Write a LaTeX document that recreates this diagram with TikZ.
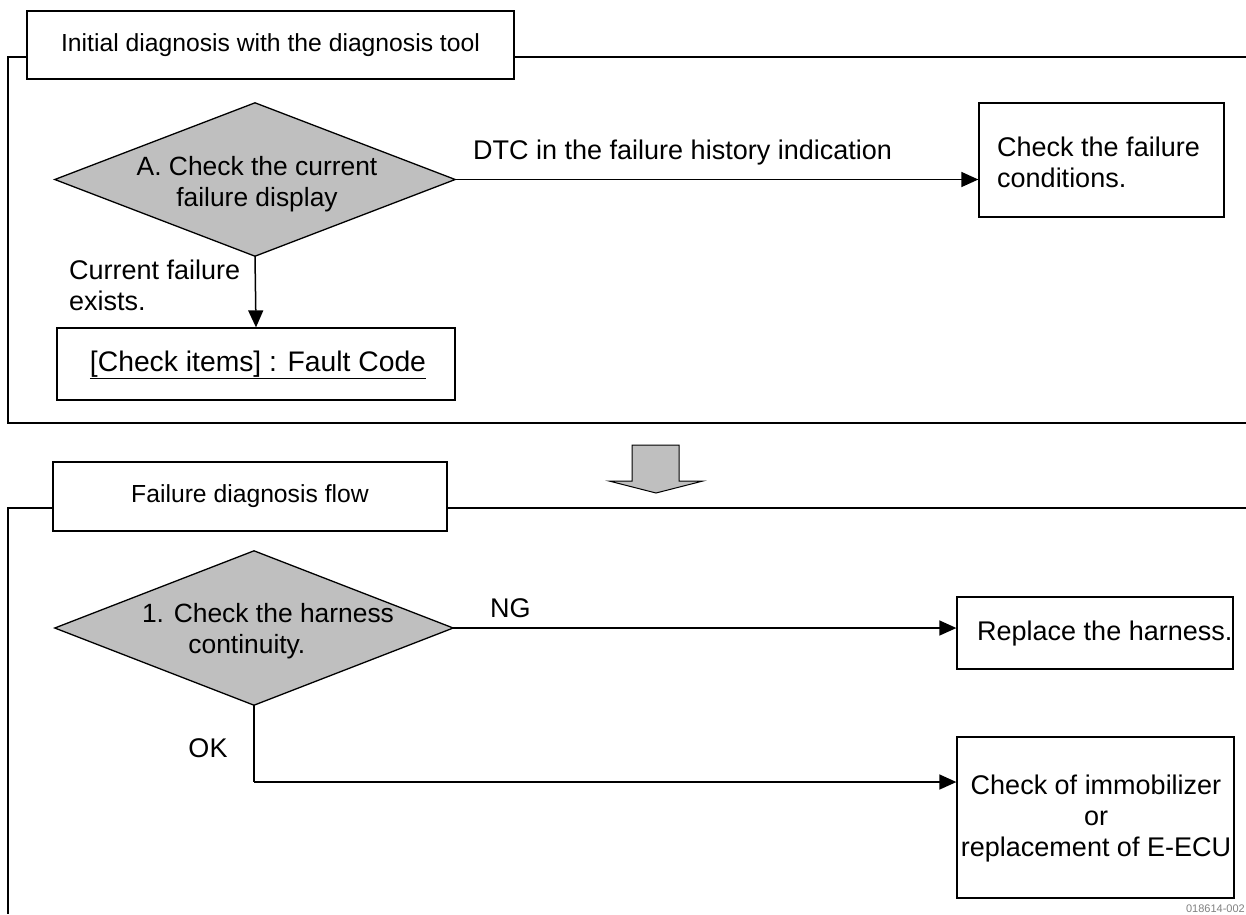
\documentclass[tikz,border=0pt]{standalone}
\usepackage{fontspec}
\setmainfont{Liberation Sans}
\usetikzlibrary{arrows.meta,calc}
\tikzset{
  txt/.style={font=\fontsize{27}{31}\selectfont, inner sep=0pt},
  ttl/.style={font=\fontsize{24.7}{31}\selectfont},
  dtxt/.style={font=\fontsize{26.4}{31}\selectfont, inner sep=0pt},
  box/.style={draw, line width=1.3pt, inner sep=0pt},
  frame/.style={line width=1.8pt},
  conn/.style={line width=1.5pt, -{Triangle[length=17pt,width=15pt]}},
  line/.style={line width=1.5pt},
  dia/.style={draw, line width=1.3pt, fill=gray!50},
}
\begin{document}
\begin{tikzpicture}[x=1pt,y=-1pt]
\useasboundingbox (0,0) rectangle (1246,914);
% ---------- top section ----------
\node[box, minimum width=487pt, minimum height=68pt, ttl] (t1) at (270.5,45) {Initial diagnosis with the diagnosis tool};
\coordinate (f1l) at (27,57);
\coordinate (f1r) at (514,57);
\draw[frame] (f1l) -- (8,57) -- (8,423) -- (1246,423);
\draw[frame] (f1r) -- (1246,57);
% diamond A
\node[minimum width=400pt, minimum height=153pt, inner sep=0pt] (A) at (255,179.5) {};
\draw[dia] (A.west) -- (A.north) -- (A.east) -- (A.south) -- cycle;
\node[dtxt, align=center] (At) at (257,184) {A. Check the current\\failure display};
% box check failure conditions
\node[box, minimum width=245pt, minimum height=114pt] (C) at (1101.5,160) {};
\node[txt, align=left, anchor=west] (Ct) at (997,162) {Check the failure\\conditions.};
\draw[conn] (A.east) -- (A.east -| C.west);
\node[txt, anchor=west] (dtc) at (473,153) {DTC in the failure history indication};
% fault code box
\node[box, minimum width=398pt, minimum height=72pt] (F) at (256,364) {};
\node[font=\fontsize{28.3}{31}\selectfont, inner sep=0pt] (Ft) at (258,365) {\underline{[Check items] : Fault Code}};
\draw[conn] (A.south) -- (F.north);
\node[txt, align=left, anchor=west] (cur) at (69,285) {Current failure\\exists.};
% big arrow
\draw[line width=1pt, fill=gray!50] (632,445) -- (679,445) -- (679,481) -- (703,481) -- (656,493) -- (609,481) -- (632,481) -- cycle;
% ---------- bottom section ----------
\node[box, minimum width=394pt, minimum height=69pt, ttl] (t2) at (250,496.5) {Failure diagnosis flow};
\coordinate (f2l) at (53,508);
\coordinate (f2r) at (447,508);
\draw[frame] (f2l) -- (8,508) -- (8,914);
\draw[frame] (f2r) -- (1246,508);
% diamond 1
\node[minimum width=398pt, minimum height=154pt, inner sep=0pt] (D) at (254,628) {};
\draw[dia] (D.west) -- (D.north) -- (D.east) -- (D.south) -- cycle;
\node[dtxt, align=center] (Dt) at (268,631) {1. Check the harness\\continuity.\hspace*{1.6em}};
% replace harness
\node[box, minimum width=276pt, minimum height=72pt] (R) at (1095,633) {};
\node[txt, anchor=west] (Rt) at (977,634) {Replace the harness.};
\draw[conn] (D.east) -- (D.east -| R.west);
\node[txt, anchor=west] (ng) at (490,608) {NG};
% immobilizer
\node[box, minimum width=277pt, minimum height=161pt] (E) at (1095.5,817.5) {};
\node[txt, align=center] (Et) at (1096,818) {Check of immobilizer\\or\\replacement of E-ECU};
\coordinate (ok) at (254,782);
\draw[line] (D.south) -- (ok);
\draw[conn] (ok) -- (ok -| E.west);
\node[txt] (okl) at (208,748) {OK};
\node[anchor=south east, inner sep=0pt, font=\fontsize{11}{11}\selectfont, text=gray] (code) at (1245,913) {018614-002};
\end{tikzpicture}
\end{document}
